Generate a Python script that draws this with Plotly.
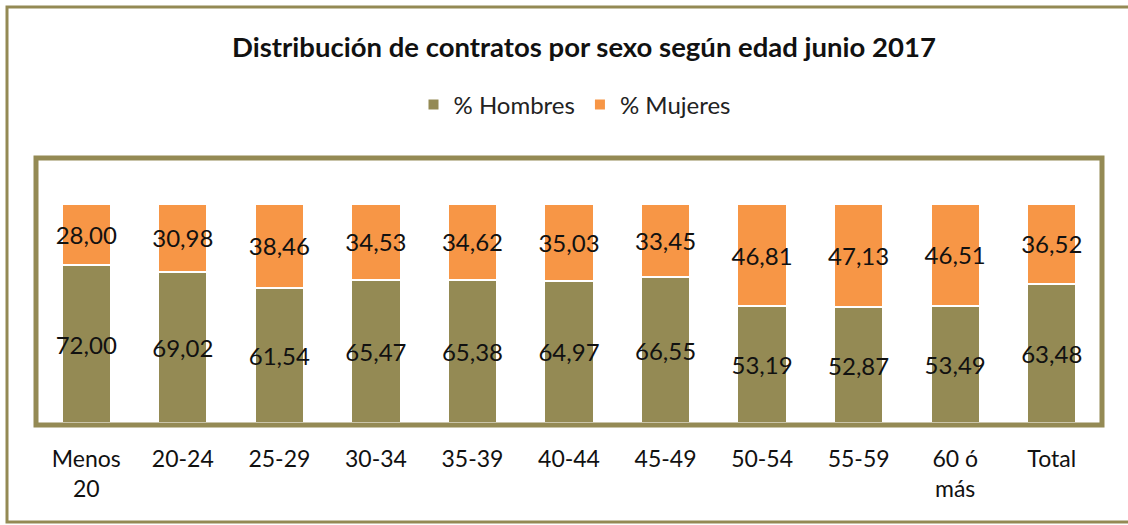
import plotly.graph_objects as go

categorias = ["Menos<br>20", "20-24", "25-29", "30-34", "35-39", "40-44",
              "45-49", "50-54", "55-59", "60 ó<br>más", "Total"]
hombres = [72.00, 69.02, 61.54, 65.47, 65.38, 64.97, 66.55, 53.19, 52.87, 53.49, 63.48]
mujeres = [28.00, 30.98, 38.46, 34.53, 34.62, 35.03, 33.45, 46.81, 47.13, 46.51, 36.52]

OLIVA = "#948A54"
NARANJA = "#F79646"
FUENTE = "Lato"

W, H = 1128, 525
ML, MR, MT, MB = 38, 28, 160, 102
PW, PH = W - ML - MR, H - MT - MB


def etiqueta(v):
    return f"{v:.2f}".replace(".", ",")


def px_x(x):
    return (x - ML) / PW


def px_y(y):
    return (H - MB - y) / PH


fig = go.Figure()
for nombre, valores, color in (("% Hombres", hombres, OLIVA),
                               ("% Mujeres", mujeres, NARANJA)):
    fig.add_trace(go.Bar(
        x=categorias, y=valores, name=nombre,
        marker=dict(color=color, line=dict(color="white", width=2)),
        text=[etiqueta(v) for v in valores], textposition="inside",
        insidetextanchor="middle", textangle=0, constraintext="none",
        textfont=dict(family=FUENTE, size=24, color="#111111"),
    ))

fig.update_layout(
    width=W, height=H,
    margin=dict(l=ML, r=MR, t=MT, b=MB),
    barmode="stack", bargap=0.49,
    paper_bgcolor="white", plot_bgcolor="white",
    font=dict(family=FUENTE, color="#111111"),
    uniformtext=dict(mode="show", minsize=24),
    title=dict(
        text="<b>Distribución de contratos por sexo según edad junio 2017</b>",
        x=584 / W, xanchor="center", y=1 - 47 / H, yanchor="middle",
        font=dict(family=FUENTE, size=27.5, color="#111111"),
    ),
    legend=dict(
        orientation="h", x=px_x(575), xanchor="center", traceorder="normal",
        y=px_y(105), yanchor="middle",
        font=dict(family=FUENTE, size=24, color="#222222"),
        itemwidth=30,
    ),
    xaxis=dict(
        showline=False, showgrid=False, ticks="",
        tickfont=dict(family=FUENTE, size=23, color="#111111"),
        ticklabelstandoff=20,
    ),
    yaxis=dict(
        range=[0, 120], visible=False, showgrid=False,
    ),
    showlegend=True,
)

# Marco del área de trazado
fig.add_shape(
    type="rect", xref="paper", yref="paper",
    x0=px_x(36), x1=px_x(1102), y0=px_y(425), y1=px_y(158),
    line=dict(color=OLIVA, width=5), layer="above",
)
# Marco exterior del gráfico (abierto por la derecha)
x0, x1 = px_x(7), px_x(1128)
y0, y1 = px_y(522), px_y(7)
fig.add_shape(
    type="path", xref="paper", yref="paper",
    path=f"M {x1},{y1} L {x0},{y1} L {x0},{y0} L {x1},{y0}",
    line=dict(color=OLIVA, width=3), layer="above",
)

fig.write_html("out.html")
